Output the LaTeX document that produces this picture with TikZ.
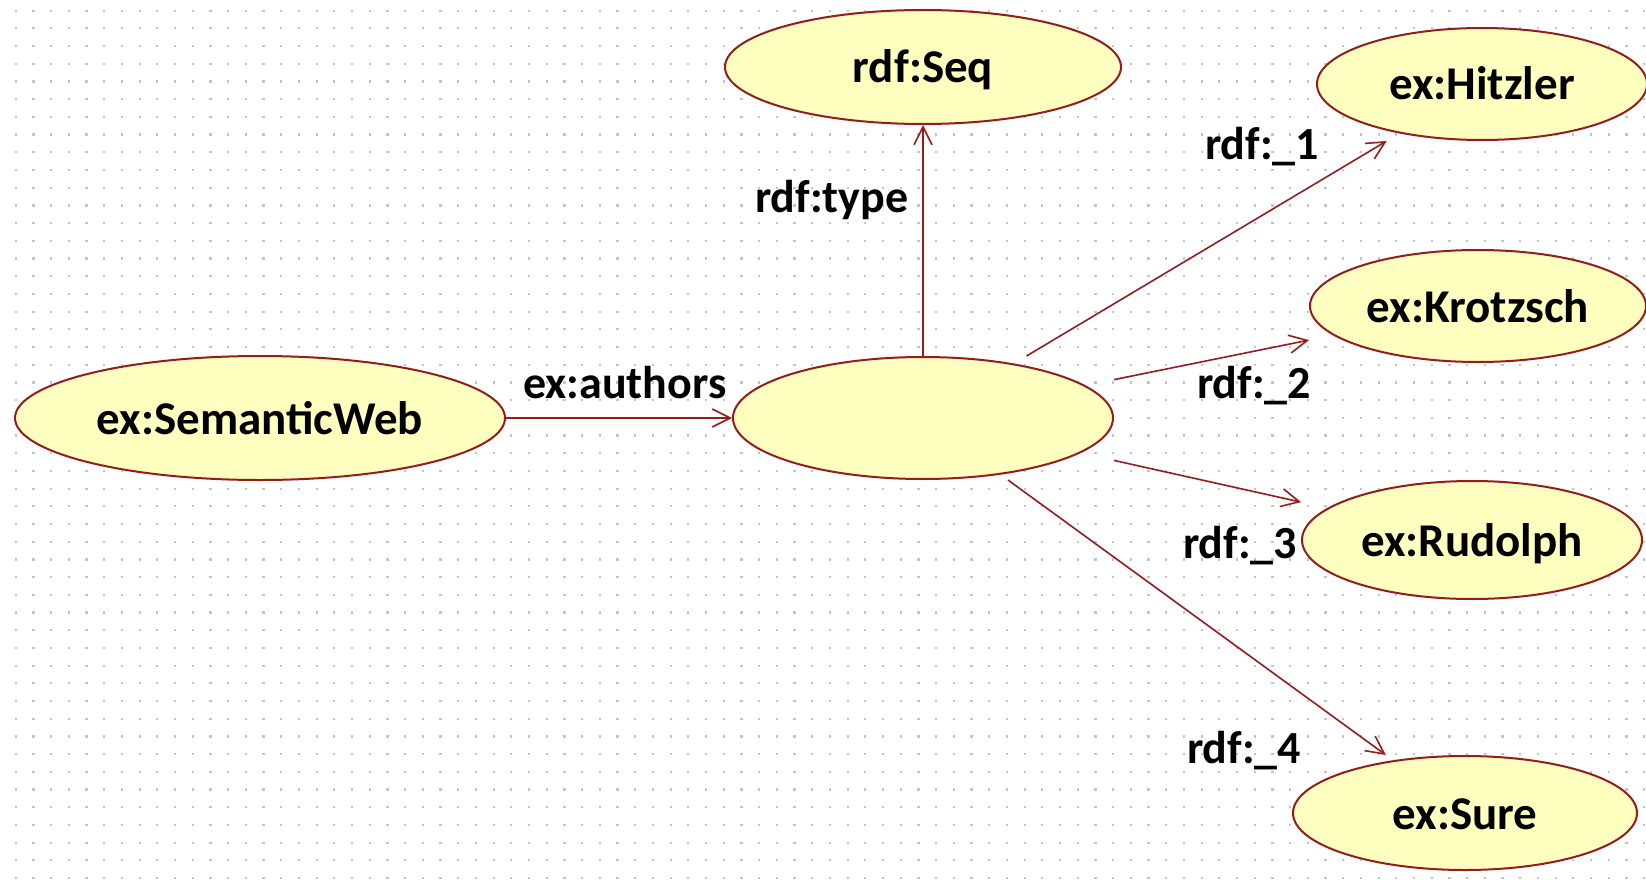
\documentclass[tikz,border=0pt]{standalone}
\usepackage{fontspec}
\setmainfont{Carlito}
\usetikzlibrary{arrows.meta}

\definecolor{edgered}{RGB}{150,28,28}
\definecolor{ellfill}{RGB}{255,255,192}
\definecolor{dotgray}{RGB}{196,196,196}

% one resource: an ellipse plus a named rectangular node of the same extent,
% so that connectors are clipped at the bounding box of the ellipse
\newcommand\resource[6]{%
  \draw[ellshape] (#2,#3) ellipse [x radius=#4pt, y radius=#5pt]
    node[box, minimum width=2*#4pt, minimum height=2*#5pt] (#1) {#6};}

\begin{document}
\begin{tikzpicture}[x=1pt, y=-1pt,
  ellshape/.style={draw=edgered, line width=2pt, fill=ellfill},
  box/.style={rectangle, inner sep=0pt, text height=32pt, text depth=0pt,
    font=\fontsize{47}{50}\selectfont\bfseries},
  lbl/.style={inner sep=0pt, anchor=base west,
    font=\fontsize{46}{50}\selectfont\bfseries},
  link/.style={draw=edgered, line width=1.6pt,
    -{Straight Barb[length=18pt, width=18pt, line width=1.6pt]}},
  griddots/.style={draw=dotgray, line width=2.2pt, dash pattern=on 2.2pt off 15.5pt}]

  \useasboundingbox (0,0) rectangle (1646,880);
  \fill[white] (0,0) rectangle (1646,880);

  % dotted background grid
  \foreach \k in {0,...,49}
    \draw[griddots] (14.6,10.7+\k*17.7) -- (1646,10.7+\k*17.7);

  % resources
  \resource{seq}{923}{67}{198}{57}{rdf:Seq}
  \resource{sw}{260}{418}{245}{62}{ex:SemanticWeb}
  \resource{blank}{923}{418}{190}{61}{}
  \resource{hitz}{1482}{84}{165}{56}{ex:Hitzler}
  \resource{krot}{1478}{306}{168}{56}{ex:Krotzsch}
  \resource{rud}{1472}{540}{170}{59}{ex:Rudolph}
  \resource{sure}{1465}{813}{172}{57}{ex:Sure}

  % properties
  \draw[link] (sw) -- (blank);
  \draw[link] (blank) -- (seq);
  \draw[link] (blank) -- (hitz);
  \draw[link] (blank) -- (krot);
  \draw[link] (blank) -- (rud);
  \draw[link] (blank) -- (sure);

  % property labels
  \node[lbl] (ltype) at (755,212) {rdf:type};
  \node[lbl] (lauth) at (523,398) {ex:authors};
  \node[lbl] (lone) at (1205,160) {rdf:\_1};
  \node[lbl] (ltwo) at (1197,398) {rdf:\_2};
  \node[lbl] (lthree) at (1183,558) {rdf:\_3};
  \node[lbl] (lfour) at (1187,763) {rdf:\_4};
\end{tikzpicture}
\end{document}
